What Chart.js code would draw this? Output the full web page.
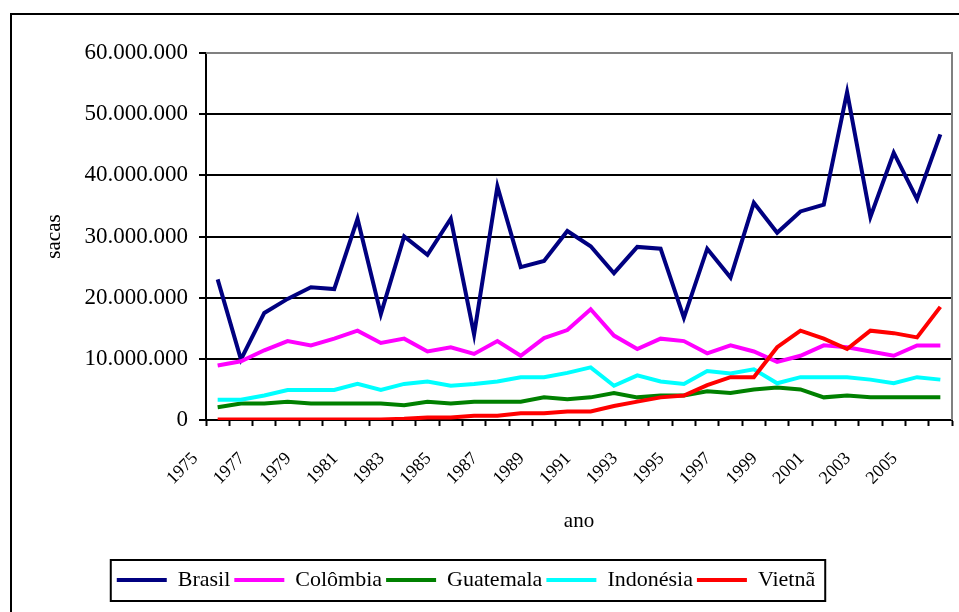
<!DOCTYPE html>
<html>
<head>
<meta charset="utf-8">
<title>Produção de café</title>
<script src="https://cdn.jsdelivr.net/npm/chart.js@4.4.1/dist/chart.umd.min.js"></script>
<style>
  html, body { margin: 0; padding: 0; background: #fff; }
  #wrap { width: 959px; height: 612px; }
</style>
</head>
<body>
<div id="wrap"><canvas id="cafeChart" width="959" height="612"></canvas></div>
<script>
// produção anual em sacas
const anos = ['1975', '1976', '1977', '1978', '1979', '1980', '1981', '1982', '1983', '1984',
  '1985', '1986', '1987', '1988', '1989', '1990', '1991', '1992', '1993', '1994', '1995',
  '1996', '1997', '1998', '1999', '2000', '2001', '2002', '2003', '2004', '2005', '2006'];

const brasil = [23000000, 9900000, 17500000, 19800000, 21700000, 21400000, 32900000, 17300000,
  30000000, 27000000, 32900000, 14000000, 38200000, 25000000, 26000000, 30900000, 28400000,
  24000000, 28300000, 28000000, 16700000, 28000000, 23300000, 35500000, 30600000, 34100000,
  35200000, 53600000, 33200000, 43700000, 36100000, 46700000];

const colombia = [8900000, 9600000, 11400000, 12900000, 12200000, 13300000, 14600000, 12600000,
  13300000, 11200000, 11900000, 10800000, 12900000, 10500000, 13400000, 14700000, 18100000,
  13800000, 11600000, 13300000, 12900000, 10900000, 12200000, 11200000, 9500000, 10500000,
  12200000, 11900000, 11200000, 10500000, 12200000, 12200000];

const guatemala = [2100000, 2700000, 2700000, 3000000, 2700000, 2700000, 2700000, 2700000,
  2400000, 3000000, 2700000, 3000000, 3000000, 3000000, 3700000, 3400000, 3700000, 4400000,
  3700000, 4000000, 4000000, 4700000, 4400000, 5000000, 5300000, 5000000, 3700000, 4000000,
  3700000, 3700000, 3700000, 3700000];

const indonesia = [3300000, 3300000, 4000000, 4900000, 4900000, 4900000, 5900000, 4900000,
  5900000, 6300000, 5600000, 5900000, 6300000, 7000000, 7000000, 7700000, 8600000, 5600000,
  7300000, 6300000, 5900000, 8000000, 7600000, 8300000, 6000000, 7000000, 7000000, 7000000,
  6600000, 6000000, 7000000, 6600000];

const vietna = [100000, 100000, 100000, 100000, 100000, 100000, 100000, 100000, 200000, 400000,
  400000, 700000, 700000, 1100000, 1100000, 1400000, 1400000, 2300000, 3000000, 3700000,
  4000000, 5700000, 7000000, 7000000, 11900000, 14600000, 13300000, 11600000, 14600000,
  14200000, 13500000, 18500000];

const fonteSerif = '"Liberation Serif", "Times New Roman", serif';
Chart.defaults.font.family = fonteSerif;
Chart.defaults.color = '#000';

// separador de milhar com ponto
const milhar = v => String(v).replace(/\B(?=(\d{3})+(?!\d))/g, '.');

// moldura externa, bordas cinza da área de plotagem e caixa da legenda
const molduras = {
  id: 'molduras',
  afterLayout(chart) {
    const lg = chart.legend;
    lg.left -= 10;
    lg.right -= 10;
  },
  beforeDraw(chart) {
    const ctx = chart.ctx;
    ctx.save();
    ctx.fillStyle = '#fff';
    ctx.fillRect(0, 0, chart.width, chart.height);
    ctx.strokeStyle = '#000';
    ctx.lineWidth = 2;
    ctx.strokeRect(11, 14, chart.width + 20, chart.height + 20);
    ctx.restore();
  },
  afterDraw(chart) {
    const ctx = chart.ctx;
    const a = chart.chartArea;
    ctx.save();
    ctx.strokeStyle = '#808080';
    ctx.lineWidth = 2;
    ctx.beginPath();
    ctx.moveTo(a.left, a.top);
    ctx.lineTo(a.right, a.top);
    ctx.lineTo(a.right, a.bottom);
    ctx.stroke();

    const hb = chart.legend.legendHitBoxes;
    if (hb && hb.length) {
      const first = hb[0];
      const last = hb[hb.length - 1];
      const x0 = first.left - 6;
      const x1 = last.left + last.width + 10;
      const y0 = first.top - 9;
      const y1 = first.top + first.height + 10;
      ctx.strokeStyle = '#000';
      ctx.lineWidth = 2;
      ctx.strokeRect(x0, y0, x1 - x0, y1 - y0);
    }
    ctx.restore();
  }
};

const serie = (label, data, cor, ordem) => ({
  label: label,
  data: data,
  borderColor: cor,
  backgroundColor: cor,
  borderWidth: 4,
  pointRadius: 0,
  tension: 0,
  fill: false,
  order: ordem
});

new Chart(document.getElementById('cafeChart'), {
  type: 'line',
  data: {
    labels: anos,
    datasets: [
      serie('Brasil', brasil, '#000080', 5),
      serie('Colômbia', colombia, '#ff00ff', 4),
      serie('Guatemala', guatemala, '#008000', 3),
      serie('Indonésia', indonesia, '#00ffff', 2),
      serie('Vietnã', vietna, '#ff0000', 1)
    ]
  },
  options: {
    responsive: false,
    animation: false,
    devicePixelRatio: 1,
    layout: {
      padding: { left: 0, right: 7, top: 53, bottom: 11 }
    },
    plugins: {
      tooltip: { enabled: false },
      legend: {
        position: 'bottom',
        labels: {
          usePointStyle: true,
          pointStyle: 'line',
          pointStyleWidth: 50,
          padding: 4,
          color: '#000',
          font: { size: 22 },
          sort: (a, b) => a.datasetIndex - b.datasetIndex
        }
      }
    },
    scales: {
      x: {
        type: 'category',
        offset: true,
        afterFit: scale => { scale.height = 145; },
        grid: {
          display: true,
          drawOnChartArea: false,
          offset: true,
          drawTicks: true,
          tickLength: 6,
          tickColor: '#000',
          tickWidth: 2
        },
        border: { color: '#000', width: 2 },
        ticks: {
          autoSkip: false,
          minRotation: 45,
          maxRotation: 45,
          padding: 0,
          font: { size: 18 },
          color: '#000',
          callback: function (value, index) {
            return index % 2 === 0 ? this.getLabelForValue(value) + '       ' : '';
          }
        },
        title: {
          display: true,
          text: 'ano',
          font: { size: 21 },
          color: '#000',
          padding: { top: 0, bottom: 31 }
        }
      },
      y: {
        min: 0,
        max: 60000000,
        afterFit: scale => { scale.width = 206; },
        grid: {
          color: ctx => (ctx.tick && ctx.tick.value === 60000000 ? '#808080' : '#000'),
          lineWidth: 2,
          tickLength: 7,
          tickColor: '#000',
          tickWidth: 2
        },
        border: { color: '#000', width: 2 },
        ticks: {
          stepSize: 10000000,
          padding: 11,
          font: { size: 23 },
          color: '#000',
          callback: v => milhar(v)
        },
        title: {
          display: true,
          text: 'sacas',
          font: { size: 21 },
          color: '#000',
          padding: { top: 42, bottom: 0 }
        }
      }
    }
  },
  plugins: [molduras]
});
</script>
</body>
</html>
